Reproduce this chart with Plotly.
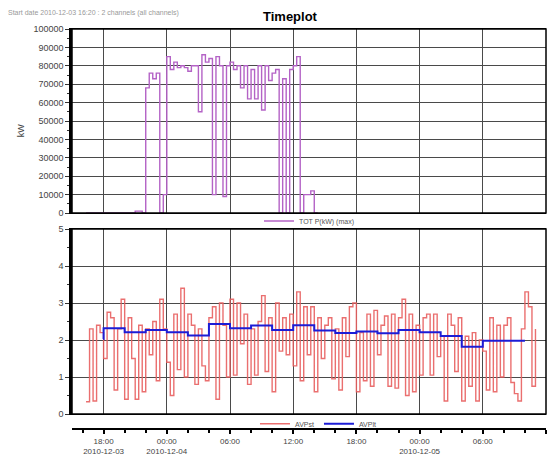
import pandas as pd
import plotly.graph_objects as go

# ---------------- data ----------------
x_start = "2010-12-03 15:00"
x_end = "2010-12-05 12:00"

# TOT P(kW) (max), 20-minute samples starting 2010-12-03 16:20
totp_start = "2010-12-03 16:20"
totp_values = [0, 0, 0, 0, 0, 0, 0, 0, 0, 0, 0, 0, 0, 0,
               1000, 1000, 0, 68000, 76000, 73000, 76000, 0, 10000, 85000,
               78000, 82000, 79000, 80000, 79000, 77000, 80000, 80000, 55000,
               86000, 82000, 84000, 10000, 85000, 80000, 9000, 80000, 82000,
               78000, 80000, 68000, 80000, 62000, 78000, 62000, 80000, 56000,
               80000, 72000, 76000, 78000, 0, 73000, 0, 78000, 80000, 85000,
               0, 10000, 10000, 12000, 0, 0]

# AVPst, 20-minute samples starting 2010-12-03 16:20
avpst_start = "2010-12-03 16:20"
avpst_values = [0.33, 2.3, 0.35, 2.4, 2.2, 1.5, 2.75, 2.6, 0.65, 2.3,
                3.1, 0.4, 2.6, 1.5, 0.4, 2.4, 0.6, 2.3, 1.6, 2.5,
                0.9, 3.1, 2.3, 1.4, 0.5, 2.7, 1.2, 3.4, 1.0, 2.7,
                2.4, 0.8, 2.3, 1.3, 0.9, 2.6, 2.9, 0.4, 3.0, 2.4,
                1.0, 3.1, 1.05, 3.0, 1.9, 2.7, 0.8, 2.3, 1.05, 2.5,
                3.2, 1.15, 2.6, 0.6, 3.0, 1.7, 2.6, 1.6, 2.7, 1.3,
                3.3, 0.9, 2.9, 1.6, 2.9, 0.6, 2.6, 1.5, 2.4, 2.6,
                0.95, 2.3, 0.65, 2.6, 1.55, 2.9, 3.0, 0.6, 2.2, 0.9,
                2.7, 0.75, 2.8, 1.6, 2.4, 2.65, 0.75, 2.7, 0.7, 2.6,
                3.1, 0.5, 2.7, 0.6, 2.4, 1.05, 2.6, 2.7, 1.05, 2.7,
                1.55, 2.1, 0.35, 2.7, 2.4, 1.15, 2.6, 0.35, 2.1, 0.75,
                2.2, 0.35, 2.0, 1.7, 0.65, 2.6, 0.6, 2.4, 1.0, 2.4,
                2.6, 0.85, 0.55, 0.35, 2.3, 3.3, 2.9, 0.75, 2.3]

# AVPlt, 2-hour steps
avplt_times = ["2010-12-03 17:58", "2010-12-03 18:00", "2010-12-03 20:00", "2010-12-03 22:00",
               "2010-12-04 00:00", "2010-12-04 02:00", "2010-12-04 04:00", "2010-12-04 06:00",
               "2010-12-04 08:00", "2010-12-04 10:00", "2010-12-04 12:00", "2010-12-04 14:00",
               "2010-12-04 16:00", "2010-12-04 18:00", "2010-12-04 20:00", "2010-12-04 22:00",
               "2010-12-05 00:00", "2010-12-05 02:00", "2010-12-05 04:00", "2010-12-05 06:00",
               "2010-12-05 08:00", "2010-12-05 10:00"]
avplt_values = [2.03, 2.32, 2.21, 2.27,
                2.21, 2.12, 2.43, 2.32,
                2.39, 2.27, 2.40, 2.26,
                2.19, 2.23, 2.18, 2.27,
                2.21, 2.11, 1.82, 1.98,
                1.98, 1.98]

tick_vals = ["2010-12-03 18:00", "2010-12-04 00:00", "2010-12-04 06:00", "2010-12-04 12:00",
             "2010-12-04 18:00", "2010-12-05 00:00", "2010-12-05 06:00", "2010-12-05 12:00"]
tick_text = ["18:00<br>2010-12-03", "00:00<br>2010-12-04", "06:00", "12:00",
             "18:00", "00:00<br>2010-12-05", "06:00", "12:00"]

# ---------------- figure ----------------
totp_t = pd.date_range(totp_start, periods=len(totp_values), freq="20min")
avpst_t = pd.date_range(avpst_start, periods=len(avpst_values), freq="20min")

FONT = "Liberation Sans, Arial, sans-serif"
GRID = "#4a4a4a"
SIX_H = 6 * 3600 * 1000

fig = go.Figure()
fig.add_trace(go.Scatter(x=totp_t, y=totp_values, mode="lines", line_shape="hv",
                         line=dict(color="#b463c6", width=1.4), name="TOT P(kW) (max)",
                         xaxis="x", yaxis="y", legend="legend"))
fig.add_trace(go.Scatter(x=avpst_t, y=avpst_values, mode="lines", line_shape="hv",
                         line=dict(color="rgba(232,95,95,0.9)", width=1.4), name="AVPst",
                         xaxis="x2", yaxis="y2", legend="legend2"))
fig.add_trace(go.Scatter(x=pd.to_datetime(avplt_times), y=avplt_values, mode="lines", line_shape="hv",
                         line=dict(color="#1c1cd6", width=2), name="AVPlt",
                         xaxis="x2", yaxis="y2", legend="legend2"))
# carrier trace for the detached time axis
fig.add_trace(go.Scatter(x=[pd.Timestamp(x_start), pd.Timestamp(x_end)], y=[None, None],
                         mode="lines", showlegend=False, hoverinfo="skip",
                         xaxis="x3", yaxis="y2"))

common_x = dict(range=[x_start, x_end], type="date", tickmode="linear",
                tick0="2010-12-03 00:00", dtick=SIX_H, showticklabels=False,
                showgrid=True, gridcolor=GRID, gridwidth=1, ticks="",
                showline=True, linecolor="black", linewidth=1, mirror=True,
                zeroline=False, automargin=False)
common_y = dict(showgrid=True, gridcolor=GRID, gridwidth=1, zeroline=False,
                showline=True, linecolor="black", linewidth=2.5, mirror=False,
                ticks="outside", ticklen=4, tickcolor="#333", tickformat="d",
                tickfont=dict(family=FONT, size=9, color="#444"), automargin=False)

fig.update_layout(
    width=555, height=455,
    margin=dict(l=72, r=9, t=29, b=26),
    paper_bgcolor="white", plot_bgcolor="white",
    font=dict(family=FONT, size=9, color="#444"),
    xaxis=dict(**common_x, domain=[0, 1], anchor="y"),
    xaxis2=dict(**common_x, domain=[0, 1], anchor="y2"),
    xaxis3=dict(range=[x_start, x_end], type="date", overlaying="x2", anchor="free",
                position=0, showgrid=False, showline=True, linecolor="black", linewidth=2,
                tickmode="array", tickvals=tick_vals, ticktext=tick_text,
                ticks="outside", ticklen=4, tickwidth=1.5, tickcolor="black",
                minor=dict(ticks="outside", ticklen=3, tickcolor="black",
                           tick0="2010-12-03 00:00", dtick=2 * 3600 * 1000, showgrid=False),
                tickfont=dict(family=FONT, size=8, color="#444"), zeroline=False,
                automargin=False),
    yaxis=dict(**common_y, domain=[0.54, 1.0], anchor="x", range=[0, 100000],
               dtick=10000, minor=dict(ticks="outside", ticklen=2, dtick=5000, tickcolor="#333")),
    yaxis2=dict(**common_y, domain=[0.0375, 0.5], anchor="x2", range=[0, 5],
                dtick=1, minor=dict(ticks="outside", ticklen=2, dtick=0.5, tickcolor="#333")),
    legend=dict(orientation="h", x=0.5, xanchor="center", y=0.52, yanchor="middle",
                font=dict(family=FONT, size=7, color="#555"), bgcolor="rgba(0,0,0,0)",
                itemwidth=30, tracegroupgap=0),
    legend2=dict(orientation="h", x=0.52, xanchor="center", y=0.013, yanchor="middle",
                 font=dict(family=FONT, size=7, color="#555"), bgcolor="rgba(0,0,0,0)",
                 itemwidth=30, tracegroupgap=0),
    showlegend=True,
)

for xr, yr in [("x domain", "y domain"), ("x2 domain", "y2 domain")]:
    fig.add_shape(type="rect", xref=xr, yref=yr, x0=0, x1=1, y0=0, y1=1,
                  line=dict(color="black", width=1.5), layer="above")

fig.add_annotation(text="<b>Timeplot</b>", xref="paper", yref="paper",
                   x=0.46, y=1.0325, yanchor="middle", showarrow=False,
                   font=dict(family=FONT, size=13, color="black"))
fig.add_annotation(text="kW", xref="paper", yref="paper", x=-0.122, y=0.77,
                   textangle=-90, showarrow=False,
                   font=dict(family=FONT, size=9, color="#444"))
fig.add_annotation(text="Start date 2010-12-03 16:20 : 2 channels (all channels)",
                   xref="paper", yref="paper", x=-0.14, xanchor="left", y=1.04, yanchor="middle",
                   showarrow=False, font=dict(family=FONT, size=7, color="#999"))

fig.write_html("out.html")
